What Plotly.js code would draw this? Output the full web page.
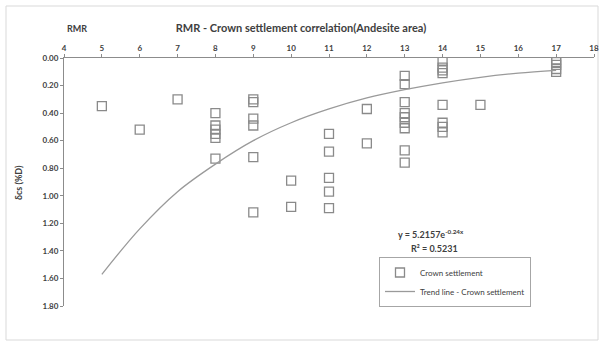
<!DOCTYPE html>
<html>
<head>
<meta charset="utf-8">
<script src="https://cdn.plot.ly/plotly-3.0.1.min.js"></script>
<style>html,body{margin:0;padding:0;background:#fff;}#chart{width:607px;height:345px;}</style>
</head>
<body>
<div id="chart"></div>
<script>
// Crown settlement observations (RMR vs δcs %D)
var rmr = [5, 6, 7,
  8, 8, 8, 8, 8, 8,
  9, 9, 9, 9, 9, 9,
  10, 10,
  11, 11, 11, 11, 11,
  12, 12,
  13, 13, 13, 13, 13, 13, 13, 13, 13,
  14, 14, 14, 14, 14, 14, 14, 14,
  15,
  17, 17, 17, 17, 17];
var settlement = [0.35, 0.52, 0.30,
  0.40, 0.49, 0.52, 0.55, 0.58, 0.73,
  0.30, 0.32, 0.44, 0.49, 0.72, 1.12,
  0.89, 1.08,
  0.55, 0.68, 0.87, 0.97, 1.09,
  0.37, 0.62,
  0.13, 0.19, 0.32, 0.40, 0.43, 0.47, 0.51, 0.67, 0.76,
  0.02, 0.07, 0.09, 0.11, 0.34, 0.47, 0.50, 0.54,
  0.34,
  0.01, 0.03, 0.05, 0.08, 0.10];

// Trend line
var trendX = [5, 6, 7, 8, 9, 10, 11, 12, 13, 14, 15, 16, 17];
var trendY = [1.57, 1.24, 0.97, 0.77, 0.60, 0.47, 0.37, 0.29, 0.23, 0.18, 0.14, 0.11, 0.09];

var xTicks = [4, 5, 6, 7, 8, 9, 10, 11, 12, 13, 14, 15, 16, 17, 18];
var yTicks = [0, 0.2, 0.4, 0.6, 0.8, 1.0, 1.2, 1.4, 1.6, 1.8];

var chartTitle = 'RMR - Crown settlement correlation(Andesite area)';
var xTitle = 'RMR';
var yTitle = 'δcs (%D)';
var eqText = 'y = 5.2157e<sup>-0.24x</sup>';
var r2Text = 'R² = 0.5231';

var F = 'Lato, "Open Sans", sans-serif';

var traces = [
  {
    x: rmr, y: settlement, type: 'scatter', mode: 'markers',
    name: 'Crown settlement',
    marker: {symbol: 'square-open', size: 9, color: '#8a8a8a', line: {width: 1.3, color: '#8a8a8a'}},
    hoverinfo: 'x+y'
  },
  {
    x: trendX, y: trendY, type: 'scatter', mode: 'lines',
    name: 'Trend line - Crown settlement',
    line: {color: '#9a9a9a', width: 1.3, shape: 'spline'},
    hoverinfo: 'skip'
  }
];

var L = 64, R = 594, T = 58, B = 306, W = 607, H = 345;
function px(x){ return (x - L) / (R - L); }
function py(y){ return (B - y) / (B - T); }

var layout = {
  width: W, height: H,
  margin: {l: L, r: W - R, t: T, b: H - B, pad: 0},
  paper_bgcolor: '#ffffff', plot_bgcolor: '#ffffff',
  showlegend: true,
  font: {family: F, color: '#404040'},
  title: {
    text: chartTitle,
    font: {family: F, size: 11, weight: 'bold', color: '#404040'},
    x: px(301), xref: 'paper', xanchor: 'center',
    y: 1 - 24 / H, yref: 'container', yanchor: 'top',
    pad: {t: 0, b: 0, l: 0, r: 0}
  },
  xaxis: {
    side: 'top', range: [4, 18], tickvals: xTicks, ticktext: xTicks.map(String),
    showgrid: false, zeroline: false,
    showline: true, linecolor: '#8c8c8c', linewidth: 1,
    ticks: 'outside', ticklen: 3, tickcolor: '#8c8c8c',
    tickfont: {family: F, size: 8, weight: 'bold', color: '#404040'},
    fixedrange: true
  },
  yaxis: {
    range: [1.8, 0], tickvals: yTicks, ticktext: yTicks.map(function(v){return v.toFixed(2);}),
    showgrid: false, zeroline: false,
    showline: true, linecolor: '#8c8c8c', linewidth: 1,
    ticks: 'outside', ticklen: 3, tickcolor: '#8c8c8c',
    tickfont: {family: F, size: 8, weight: 'bold', color: '#404040'},
    fixedrange: true
  },
  legend: {
    x: px(379), y: py(257), xanchor: 'left', yanchor: 'top',
    bordercolor: '#a6a6a6', borderwidth: 1, bgcolor: '#ffffff',
    font: {family: F, size: 8, color: '#404040'},
    itemwidth: 30, tracegroupgap: 0
  },
  annotations: [
    {text: xTitle, xref: 'paper', yref: 'paper', x: px(77), y: py(28), xanchor: 'center', yanchor: 'middle', showarrow: false,
     font: {family: F, size: 9, weight: 'bold', color: '#404040'}},
    {text: yTitle, xref: 'paper', yref: 'paper', x: px(18), y: py(183), xanchor: 'center', yanchor: 'middle', showarrow: false, textangle: -90,
     font: {family: F, size: 9, weight: 'bold', color: '#404040'}},
    {text: eqText, xref: 'paper', yref: 'paper', x: px(431), y: py(234), xanchor: 'center', yanchor: 'middle', showarrow: false,
     font: {family: F, size: 9, weight: 'bold', color: '#404040'}},
    {text: r2Text, xref: 'paper', yref: 'paper', x: px(434), y: py(248), xanchor: 'center', yanchor: 'middle', showarrow: false,
     font: {family: F, size: 9, weight: 'bold', color: '#404040'}}
  ],
  shapes: [
    {type: 'rect', xref: 'paper', yref: 'paper', x0: px(6), x1: px(598), y0: py(340), y1: py(6),
     line: {color: '#d9d9d9', width: 1}, fillcolor: 'rgba(0,0,0,0)', layer: 'below'}
  ]
};

Plotly.newPlot('chart', traces, layout, {displayModeBar: false, staticPlot: true});
</script>
</body>
</html>
